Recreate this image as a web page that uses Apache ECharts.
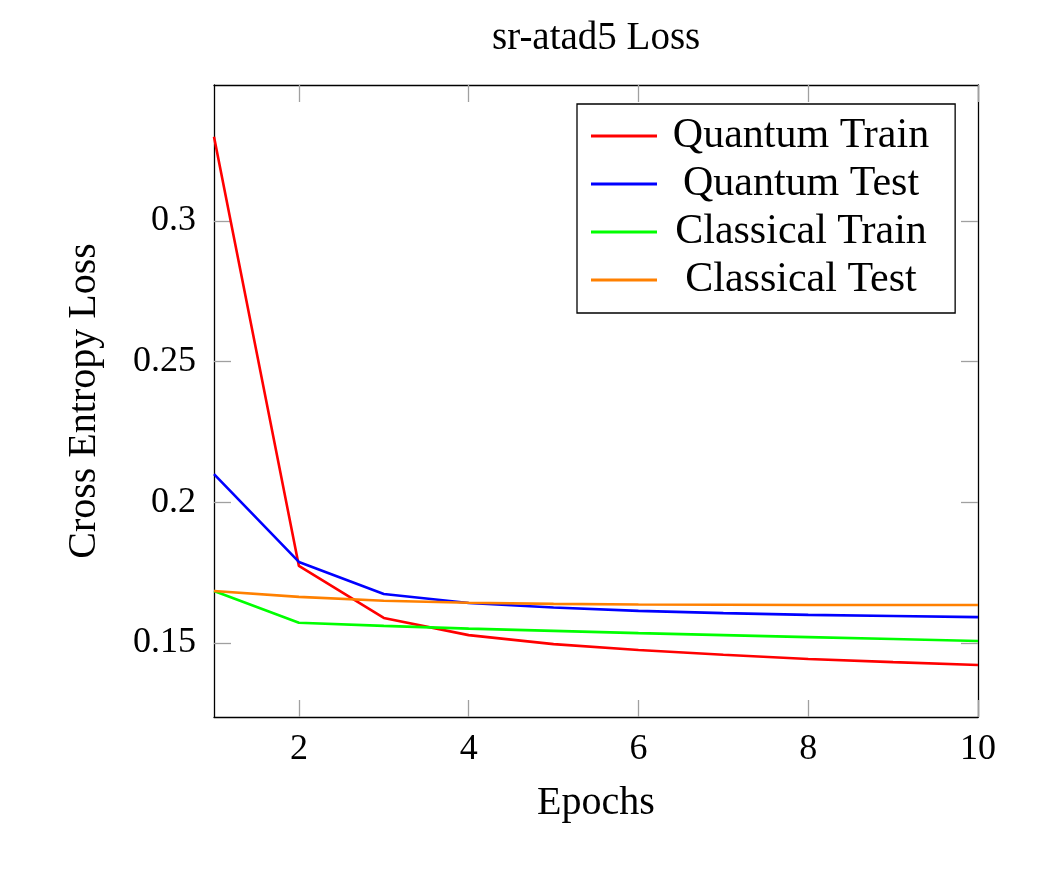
<!DOCTYPE html>
<html lang="en">
<head>
  <meta charset="UTF-8">
  <title>sr-atad5 Loss</title>
  <style>
    * { margin: 0; padding: 0; }
    body { background-color: #ffffff; }
    #chart { width: 1063px; height: 885px; }
  </style>
</head>
<body>
  <div id="chart"></div>
  <script src="https://cdn.jsdelivr.net/npm/echarts@6/dist/echarts.min.js"></script>
  <script>
    // data
    const epochs = [1, 2, 3, 4, 5, 6, 7, 8, 9, 10];
    const quantumTrain = [0.3299, 0.1774, 0.1589, 0.1528, 0.1496, 0.1475, 0.1458, 0.1443, 0.1432, 0.1422];
    const quantumTest = [0.2100, 0.1788, 0.1674, 0.1642, 0.1626, 0.1614, 0.1606, 0.1600, 0.1596, 0.1592];
    const classicalTrain = [0.1685, 0.1572, 0.1561, 0.1551, 0.1543, 0.1535, 0.1528, 0.1521, 0.1514, 0.1507];
    const classicalTest = [0.1685, 0.1664, 0.1650, 0.1643, 0.1639, 0.1637, 0.1636, 0.1635, 0.1635, 0.1635];
    const xTicks = [2, 4, 6, 8, 10];
    const yTicks = [0.15, 0.2, 0.25, 0.3];

    const font = 'Liberation Serif';
    const pair = (ys) => epochs.map((x, i) => [x, ys[i]]);

    const tickStyle = { length: 17, inside: true, lineStyle: { color: '#a0a0a0', width: 1.3 } };
    const axisLine = { show: true, onZero: false, lineStyle: { color: '#000', width: 1.3 } };

    var myChart = echarts.init(document.getElementById('chart'));
    var option = {
      backgroundColor: '#fff',
      animation: false,
      title: {
        text: 'sr-atad5 Loss',
        left: 487,
        top: 14,
        textStyle: { fontFamily: font, fontSize: 39, fontWeight: 'normal', color: '#000' }
      },
      legend: {
        orient: 'vertical',
        left: 577,
        top: 104,
        padding: [11, 26, 12, 14],
        itemGap: 6,
        itemWidth: 66,
        itemHeight: 3,
        icon: 'rect',
        borderColor: '#000',
        borderWidth: 1.3,
        backgroundColor: '#fff',
        formatter: '{c|{name}}',
        textStyle: {
          fontFamily: font, fontSize: 42, color: '#000',
          rich: { c: { width: 278, align: 'center', fontFamily: font, fontSize: 42 } }
        },
        data: ['Quantum Train', 'Quantum Test', 'Classical Train', 'Classical Test']
      },
      grid: { left: 214, top: 85, right: 85, bottom: 168 },
      xAxis: [
        {
          type: 'value', min: 1, max: 10,
          name: 'Epochs', nameLocation: 'middle', nameGap: 66,
          nameTextStyle: { fontFamily: font, fontSize: 40, color: '#000' },
          axisLine: axisLine,
          axisTick: Object.assign({ customValues: xTicks }, tickStyle),
          axisLabel: { customValues: xTicks, margin: 15, fontFamily: font, fontSize: 36, color: '#000' },
          splitLine: { show: false }
        },
        {
          type: 'value', min: 1, max: 10, position: 'top',
          axisLine: axisLine,
          axisTick: Object.assign({ customValues: xTicks }, tickStyle),
          axisLabel: { show: false },
          splitLine: { show: false }
        }
      ],
      yAxis: [
        {
          type: 'value', min: 0.1237, max: 0.3483,
          name: 'Cross Entropy Loss', nameLocation: 'middle', nameGap: 110,
          nameTextStyle: { fontFamily: font, fontSize: 40, color: '#000' },
          axisLine: axisLine,
          axisTick: Object.assign({ customValues: yTicks }, tickStyle),
          axisLabel: { customValues: yTicks, margin: 18, fontFamily: font, fontSize: 36, color: '#000' },
          splitLine: { show: false }
        },
        {
          type: 'value', min: 0.1237, max: 0.3483, position: 'right',
          axisLine: axisLine,
          axisTick: Object.assign({ customValues: yTicks }, tickStyle),
          axisLabel: { show: false },
          splitLine: { show: false }
        }
      ],
      series: [
        { name: 'Quantum Train', type: 'line', symbol: 'none', color: '#ff0000', lineStyle: { width: 2.6 }, data: pair(quantumTrain) },
        { name: 'Quantum Test', type: 'line', symbol: 'none', color: '#0000ff', lineStyle: { width: 2.6 }, data: pair(quantumTest) },
        { name: 'Classical Train', type: 'line', symbol: 'none', color: '#00ff00', lineStyle: { width: 2.6 }, data: pair(classicalTrain) },
        { name: 'Classical Test', type: 'line', symbol: 'none', color: '#ff8000', lineStyle: { width: 2.6 }, data: pair(classicalTest) }
      ]
    };
    myChart.setOption(option);
  </script>
</body>
</html>
